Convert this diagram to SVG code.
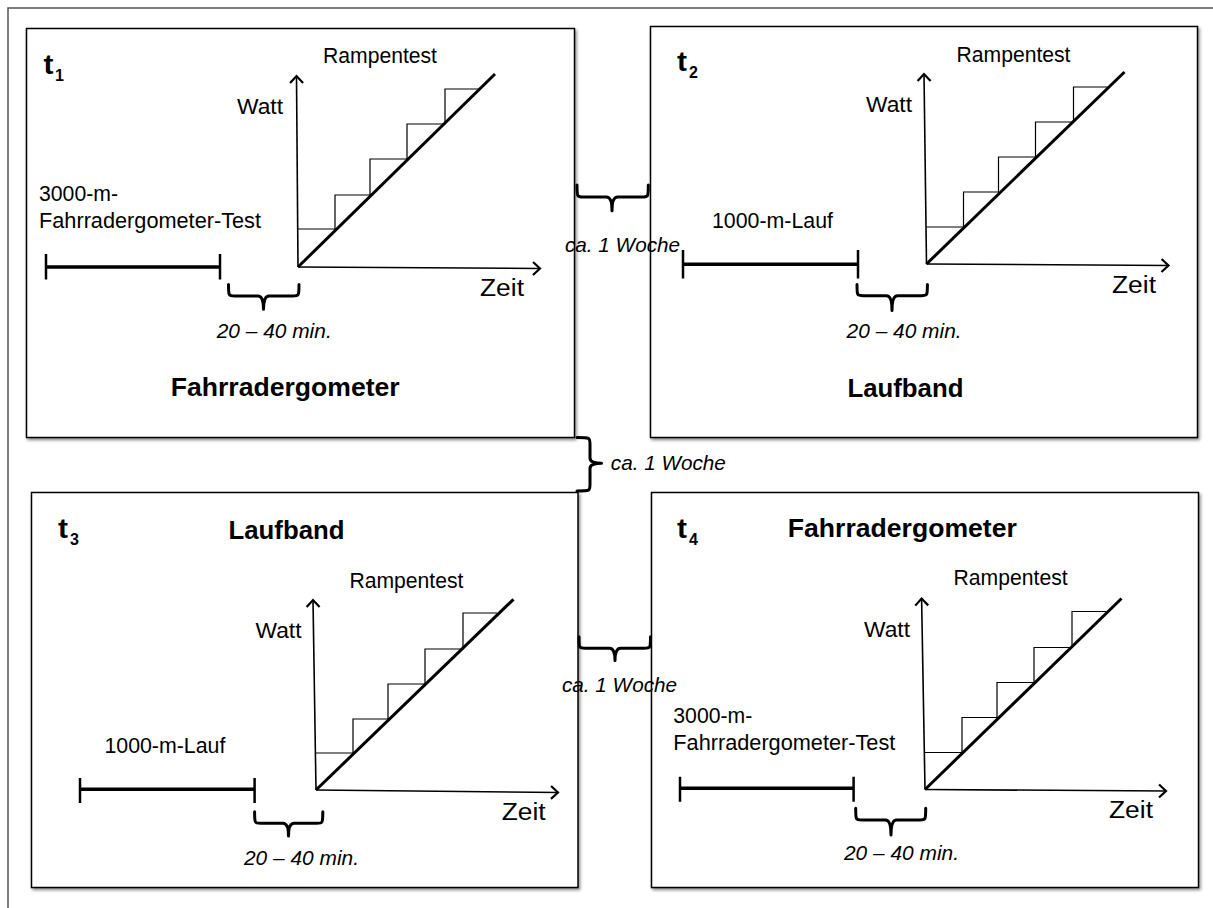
<svg xmlns="http://www.w3.org/2000/svg" width="1213" height="908" viewBox="0 0 1213 908">
<style>
text{font-family:"Liberation Sans",Arial,sans-serif;fill:#000}
.n{font-size:21.5px}
.z{font-size:23px}
.i{font-size:21px;font-style:italic}
.b{font-size:26px;font-weight:bold}
.t{font-size:27px;font-weight:bold}
.sub{font-size:16px;font-weight:bold}
.panel{fill:#fff;stroke:#000;stroke-width:1.5;filter:url(#sh)}
.ax{fill:none;stroke:#000;stroke-width:1.6}
.diag{fill:none;stroke:#000;stroke-width:3}
.step{fill:none;stroke:#000;stroke-width:1.2}
.bar{fill:none;stroke:#000;stroke-width:3.5}
.tick{fill:none;stroke:#000;stroke-width:2.5}
.brace{fill:none;stroke:#000;stroke-width:3;stroke-linejoin:round;stroke-linecap:round}
</style>
<defs>
<filter id="sh" x="-5%" y="-5%" width="110%" height="110%">
<feDropShadow dx="1.5" dy="2" stdDeviation="1.5" flood-color="#000" flood-opacity="0.45"/>
</filter>
<marker id="arr" markerUnits="userSpaceOnUse" markerWidth="20" markerHeight="20" refX="0" refY="0" orient="auto" overflow="visible">
<path d="M-7,-6.5 L0,0 L-7,6.5" fill="none" stroke="#000" stroke-width="2.2"/>
</marker>
</defs>
<rect x="0" y="0" width="1213" height="908" fill="#fff"/>
<path d="M8,908 V8 H1213" fill="none" stroke="#555" stroke-width="1.5"/>

<g id="panel1">
<rect class="panel" x="26.5" y="28.5" width="548" height="409"/>
<text class="t" x="43.5" y="73.5" textLength="10" lengthAdjust="spacingAndGlyphs">t</text><text class="sub" x="55" y="80.7">1</text>
<text class="n" x="323" y="62.7" textLength="114" lengthAdjust="spacingAndGlyphs">Rampentest</text>
<text class="n" x="237" y="114" textLength="46" lengthAdjust="spacingAndGlyphs">Watt</text>
<text class="z" x="480" y="295.5" textLength="44" lengthAdjust="spacingAndGlyphs">Zeit</text>
<g transform="translate(298,267)">
<path class="ax" d="M0,0 L-1.5,-191" marker-end="url(#arr)"/>
<path class="ax" d="M0,0 L242,1.5" marker-end="url(#arr)"/>
<path class="step" d="M0,-38 H37 V-72 H72 V-108 H109 V-143 H147 V-178 H181"/>
<path class="diag" d="M0,0 L197,-193"/>
</g>
<text class="n" x="39" y="201" textLength="79" lengthAdjust="spacingAndGlyphs">3000-m-</text>
<text class="n" x="39" y="228.3" textLength="222" lengthAdjust="spacingAndGlyphs">Fahrradergometer-Test</text>
<path class="bar" d="M46,267 H220"/>
<path class="tick" d="M46,254 V279.5 M220,254 V279.5"/>
<path class="brace" d="M228.5,284.5 C228.5,296 228.5,296 235,296 L258,296 Q263.5,296 263.5,309.3 Q263.5,296 269,296 L292.5,296 C299,296 299,296 299,284.5"/>
<text class="i" x="216.7" y="338.3" textLength="115" lengthAdjust="spacingAndGlyphs">20 – 40 min.</text>
<text class="b" x="170.7" y="396" textLength="229" lengthAdjust="spacingAndGlyphs">Fahrradergometer</text>
</g>

<g id="panel2">
<rect class="panel" x="650.5" y="26.5" width="547" height="411"/>
<text class="t" x="677" y="71" textLength="10" lengthAdjust="spacingAndGlyphs">t</text><text class="sub" x="689" y="78">2</text>
<text class="n" x="956.5" y="61.7" textLength="114" lengthAdjust="spacingAndGlyphs">Rampentest</text>
<text class="n" x="866" y="111.7" textLength="46" lengthAdjust="spacingAndGlyphs">Watt</text>
<text class="z" x="1112" y="293.3" textLength="44" lengthAdjust="spacingAndGlyphs">Zeit</text>
<g transform="translate(926.5,264)">
<path class="ax" d="M0,0 L-2.5,-190" marker-end="url(#arr)"/>
<path class="ax" d="M0,0 L242,1.5" marker-end="url(#arr)"/>
<path class="step" d="M0,-37 H37 V-72 H72 V-107 H109 V-142 H147 V-177 H181"/>
<path class="diag" d="M0,0 L198,-192"/>
</g>
<text class="n" x="712" y="227.7" textLength="121" lengthAdjust="spacingAndGlyphs">1000-m-Lauf</text>
<path class="bar" d="M683,264.3 H858"/>
<path class="tick" d="M683,250 V278.5 M858,250 V278.5"/>
<path class="brace" d="M857,284.5 C857,295.7 857,295.7 863.5,295.7 L886.5,295.7 Q892,295.7 892,310.5 Q892,295.7 897.5,295.7 L921,295.7 C927.4,295.7 927.4,295.7 927.4,284.5"/>
<text class="i" x="846.6" y="338.3" textLength="115" lengthAdjust="spacingAndGlyphs">20 – 40 min.</text>
<text class="b" x="847.4" y="396.7" textLength="116" lengthAdjust="spacingAndGlyphs">Laufband</text>
</g>

<g id="panel3">
<rect class="panel" x="31.5" y="492.5" width="546.5" height="395"/>
<text class="t" x="58" y="538.3" textLength="10" lengthAdjust="spacingAndGlyphs">t</text><text class="sub" x="70" y="545">3</text>
<text class="b" x="228.5" y="539.3" textLength="116" lengthAdjust="spacingAndGlyphs">Laufband</text>
<text class="n" x="349.4" y="588.3" textLength="114" lengthAdjust="spacingAndGlyphs">Rampentest</text>
<text class="n" x="255.5" y="638.3" textLength="46" lengthAdjust="spacingAndGlyphs">Watt</text>
<text class="z" x="501.7" y="820" textLength="44" lengthAdjust="spacingAndGlyphs">Zeit</text>
<g transform="translate(316,790)">
<path class="ax" d="M0,0 L-3,-190" marker-end="url(#arr)"/>
<path class="ax" d="M0,0 L242,2.5" marker-end="url(#arr)"/>
<path class="step" d="M0,-37 H37 V-71 H72 V-106 H109 V-141 H147 V-177 H181"/>
<path class="diag" d="M0,0 L197.5,-190.7"/>
</g>
<text class="n" x="104.4" y="753.3" textLength="121" lengthAdjust="spacingAndGlyphs">1000-m-Lauf</text>
<path class="bar" d="M80,789.3 H254.6"/>
<path class="tick" d="M80,778 V803 M254.6,778 V803"/>
<path class="brace" d="M254.6,811.7 C254.6,823.3 254.6,823.3 261,823.3 L283,823.3 Q288.5,823.3 288.5,836 Q288.5,823.3 294,823.3 L316.5,823.3 C322.8,823.3 322.8,823.3 322.8,811.7"/>
<text class="i" x="244" y="865" textLength="115" lengthAdjust="spacingAndGlyphs">20 – 40 min.</text>
</g>

<g id="panel4">
<rect class="panel" x="651.5" y="492.5" width="547" height="395"/>
<text class="t" x="677" y="538.3" textLength="10" lengthAdjust="spacingAndGlyphs">t</text><text class="sub" x="689" y="545">4</text>
<text class="b" x="787.8" y="536.7" textLength="229" lengthAdjust="spacingAndGlyphs">Fahrradergometer</text>
<text class="n" x="953.6" y="585" textLength="114" lengthAdjust="spacingAndGlyphs">Rampentest</text>
<text class="n" x="864" y="637.3" textLength="46" lengthAdjust="spacingAndGlyphs">Watt</text>
<text class="z" x="1109" y="818.3" textLength="44" lengthAdjust="spacingAndGlyphs">Zeit</text>
<g transform="translate(925,789.5)">
<path class="ax" d="M0,0 L-3.4,-191" marker-end="url(#arr)"/>
<path class="ax" d="M0,0 L241,1.5" marker-end="url(#arr)"/>
<path class="step" d="M0,-37 H37 V-72 H72 V-107 H109 V-142 H147 V-178 H181"/>
<path class="diag" d="M0,0 L196.5,-191"/>
</g>
<text class="n" x="673.3" y="723.3" textLength="79" lengthAdjust="spacingAndGlyphs">3000-m-</text>
<text class="n" x="673.3" y="750" textLength="222" lengthAdjust="spacingAndGlyphs">Fahrradergometer-Test</text>
<path class="bar" d="M680,788.3 H853.6"/>
<path class="tick" d="M680,776.7 V801.7 M853.6,776.7 V801.7"/>
<path class="brace" d="M855.7,808.3 C855.7,820 855.7,820 862,820 L885.5,820 Q891,820 891,835 Q891,820 896.5,820 L919.5,820 C925.7,820 925.7,820 925.7,808.3"/>
<text class="i" x="844" y="860" textLength="115" lengthAdjust="spacingAndGlyphs">20 – 40 min.</text>
</g>

<g id="connectors">
<path class="brace" d="M577,185 C577,197 577,197 583.5,197 L606.5,197 Q612,197 612,210.7 Q612,197 617.5,197 L642,197 C648.3,197 648.3,197 648.3,185"/>
<text class="i" x="565" y="252" textLength="115" lengthAdjust="spacingAndGlyphs">ca. 1 Woche</text>
<path class="brace" d="M577,437.5 C590,437.5 590,437.5 590,444 L590,458 Q590,463.3 601.5,463.3 Q590,463.3 590,468.5 L590,484.5 C590,491 590,491 577,491"/>
<text class="i" x="610.8" y="470" textLength="115" lengthAdjust="spacingAndGlyphs">ca. 1 Woche</text>
<path class="brace" d="M579,636.7 C579,648.3 579,648.3 585.5,648.3 L609.5,648.3 Q615,648.3 615,660.5 Q615,648.3 620.5,648.3 L644,648.3 C650.5,648.3 650.5,648.3 650.5,636.7"/>
<text class="i" x="562" y="691.7" textLength="115" lengthAdjust="spacingAndGlyphs">ca. 1 Woche</text>
</g>
</svg>
